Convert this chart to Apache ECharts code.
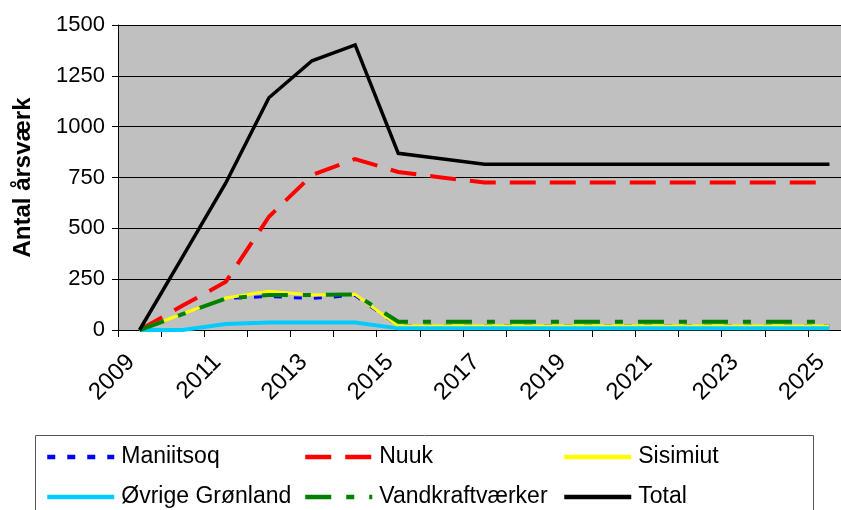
<!DOCTYPE html>
<html>
<head>
<meta charset="utf-8">
<script src="https://cdn.jsdelivr.net/npm/echarts@6/dist/echarts.min.js"></script>
<style>
  html, body { margin: 0; padding: 0; background: #fff; }
  #chart { width: 841px; height: 510px; }
</style>
</head>
<body>
<div id="chart"></div>
<script>
  // data (antal årsværk)
  var years = ['2009','2010','2011','2012','2013','2014','2015','2016','2017','2018','2019','2020','2021','2022','2023','2024','2025'];
  var maniitsoq = [0, 80, 155, 165, 155, 170, 20, 20, 20, 20, 20, 20, 20, 20, 20, 20, 20];
  var nuuk      = [0, 120, 237, 557, 762, 841, 777, 750, 725, 725, 725, 725, 725, 725, 725, 725, 725];
  var sisimiut  = [0, 80, 157, 190, 172, 176, 20, 20, 20, 20, 20, 20, 20, 20, 20, 20, 20];
  var ovrige    = [0, 0, 29, 37, 37, 37, 8, 8, 8, 8, 8, 8, 8, 8, 8, 8, 8];
  var vandkraft = [0, 78, 155, 172, 172, 175, 41, 41, 41, 41, 41, 41, 41, 41, 41, 41, 41];
  var total     = [0, 361, 723, 1142, 1324, 1402, 869, 842, 815, 815, 815, 815, 815, 815, 815, 815, 815];
  var yTicks    = [0, 250, 500, 750, 1000, 1250, 1500];

  var font = "'Liberation Sans', Arial, sans-serif";
  var chart = echarts.init(document.getElementById('chart'));

  function lineSeries(name, data, color, width, type) {
    return {
      name: name,
      type: 'line',
      data: data,
      symbol: 'none',
      showSymbol: false,
      lineStyle: { color: color, width: width, type: type, cap: 'butt', join: 'miter' },
      itemStyle: { color: color },
      emphasis: { disabled: true }
    };
  }

  function legendAt(name, left, top) {
    return {
      data: [name],
      left: left,
      top: top,
      padding: 0,
      itemWidth: 67,
      itemHeight: 14,
      itemGap: 0,
      selectedMode: false,
      itemStyle: { opacity: 0 },
      lineStyle: { width: 4.5 },
      textStyle: { fontFamily: font, fontSize: 23, color: '#000', lineHeight: 26, padding: [0, 0, 0, 2] }
    };
  }

  var option = {
    animation: false,
    backgroundColor: '#ffffff',
    grid: {
      left: 118, top: 25, width: 733, height: 305,
      outerBoundsMode: 'none',
      show: true, backgroundColor: '#c0c0c0', borderWidth: 0
    },
    legend: [
      legendAt('Maniitsoq', 45, 444),
      legendAt('Nuuk', 303, 444),
      legendAt('Sisimiut', 562, 444),
      legendAt('Øvrige Grønland', 45, 484),
      legendAt('Vandkraftværker', 303, 484),
      legendAt('Total', 562, 484)
    ],
    graphic: [{
      type: 'rect',
      shape: { x: 35.5, y: 435.5, width: 778, height: 100 },
      style: { fill: null, stroke: '#555', lineWidth: 1 },
      silent: true
    }],
    xAxis: {
      type: 'category',
      data: years,
      boundaryGap: true,
      axisLine: { lineStyle: { color: '#000', width: 1 } },
      axisTick: { show: true, interval: 0, length: 7, lineStyle: { color: '#000' } },
      axisLabel: {
        interval: 1, rotate: 45, margin: 20,
        padding: [0, 12, 0, 0],
        fontFamily: font, fontSize: 24, color: '#000'
      },
      splitLine: { show: false }
    },
    yAxis: {
      type: 'value',
      min: yTicks[0],
      max: yTicks[yTicks.length - 1],
      interval: 250,
      name: 'Antal årsværk',
      nameLocation: 'middle',
      nameRotate: 90,
      nameGap: 83,
      nameTextStyle: { fontFamily: font, fontSize: 24, fontWeight: 'bold', color: '#000' },
      axisLine: { show: true, lineStyle: { color: '#000', width: 1 } },
      axisTick: { show: true, length: 6, lineStyle: { color: '#000' } },
      axisLabel: {
        margin: 13, fontFamily: font, fontSize: 22, color: '#000',
        formatter: function (v) { return String(v); }
      },
      splitLine: { show: true, lineStyle: { color: '#000', width: 1 } }
    },
    series: [
      lineSeries('Maniitsoq', maniitsoq, '#0000ff', 3, [8, 12]),
      lineSeries('Nuuk', nuuk, '#ff0000', 4, [26, 14]),
      lineSeries('Sisimiut', sisimiut, '#ffff00', 3, 'solid'),
      lineSeries('Øvrige Grønland', ovrige, '#00ccff', 4, 'solid'),
      lineSeries('Vandkraftværker', vandkraft, '#008000', 4, [26, 15, 8, 15]),
      lineSeries('Total', total, '#000000', 3.5, 'solid')
    ]
  };

  chart.setOption(option);
</script>
</body>
</html>
